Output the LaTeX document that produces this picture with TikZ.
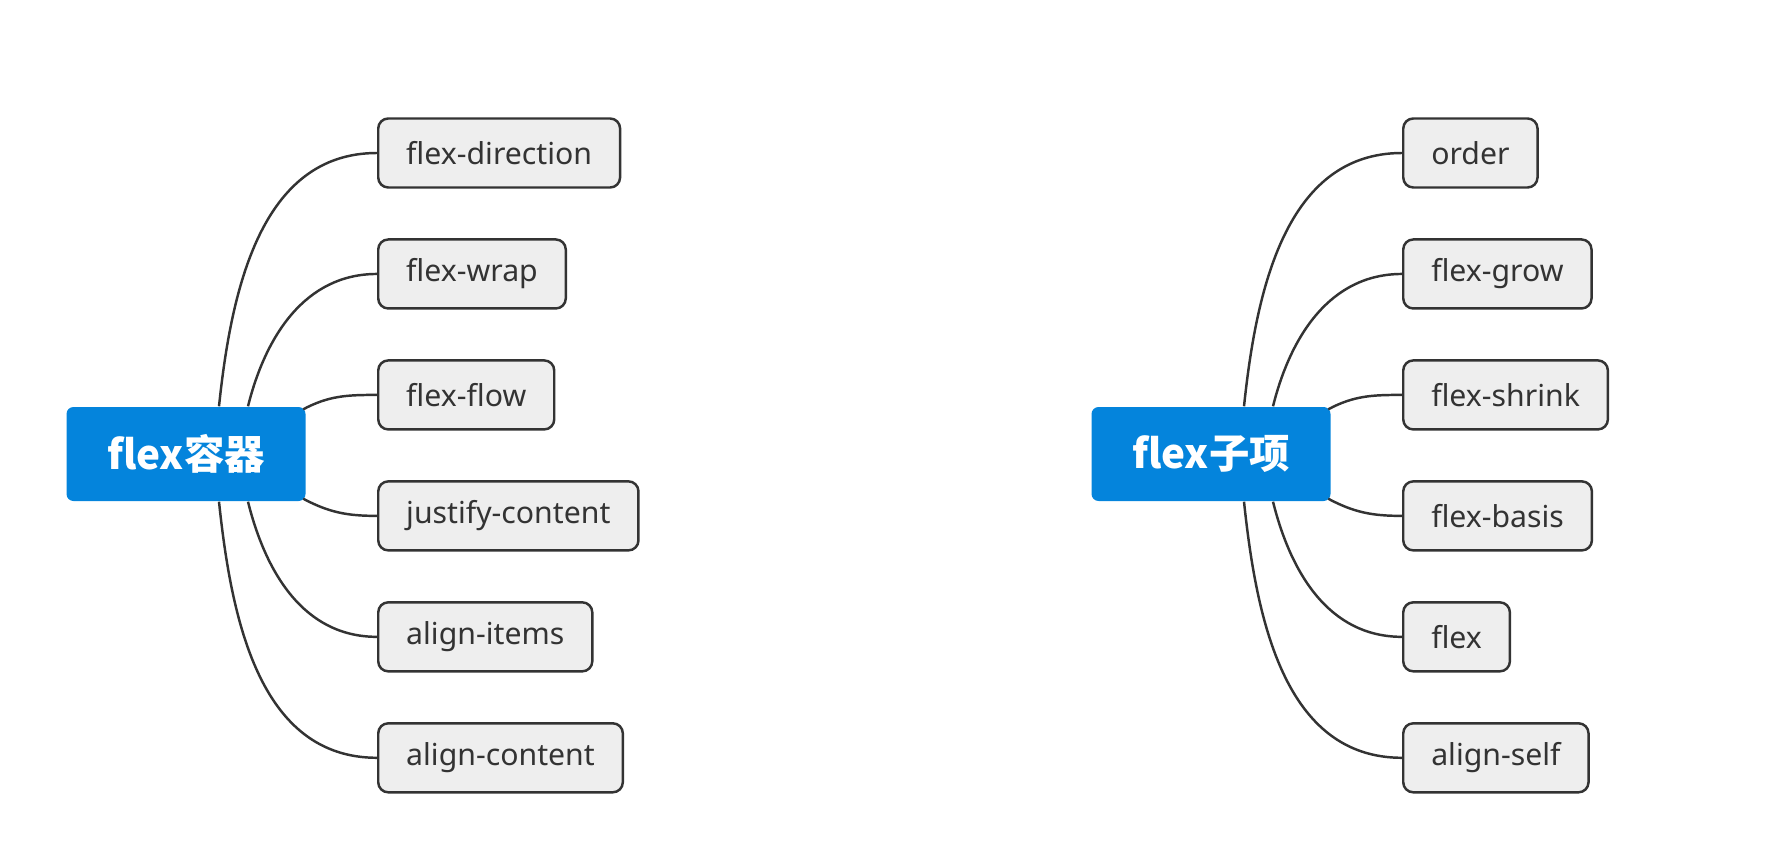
\documentclass[tikz,border=0pt]{standalone}
\usepackage{fontspec}
\setmainfont{Noto Sans}
\newfontfamily\cjk{Noto Sans CJK SC}
\usepackage{tikz}
\usetikzlibrary{positioning}
\definecolor{rootblue}{RGB}{4,132,220}
\definecolor{itemfill}{RGB}{238,238,238}
\definecolor{linegray}{RGB}{51,51,51}
\tikzset{
  root/.style={rectangle, rounded corners=0.07cm, fill=rootblue, text=white, minimum width=2.39cm, minimum height=0.94cm, align=center, font=\cjk\bfseries\fontsize{11.5}{13}\selectfont},
  item/.style={rectangle, rounded corners=0.1cm, draw=linegray, line width=0.7pt, fill=itemfill, text=linegray, minimum height=0.69cm, inner xsep=0.28cm, font=\fontsize{8.6}{10}\selectfont},
  link/.style={draw=linegray, line width=0.7pt},
}

\begin{document}
\begin{tikzpicture}[node distance=0.495cm]
  \useasboundingbox (0,0) rectangle (17.85,8.57);

  % flex container
  \node[root] (lroot) at (1.86,4.03) {flex容器};
  \node[item, anchor=west] (l1) at (3.77,7.04) {flex-direction};
  \node[item, below=of l1.south west, anchor=north west] (l2) {flex-wrap};
  \node[item, below=of l2.south west, anchor=north west] (l3) {flex-flow};
  \node[item, below=of l3.south west, anchor=north west] (l4) {justify-content};
  \node[item, below=of l4.south west, anchor=north west] (l5) {align-items};
  \node[item, below=of l5.south west, anchor=north west] (l6) {align-content};

  \draw[link] ([xshift=0.33cm]lroot.north) to[out=84, in=180] (l1.west);
  \draw[link] ([xshift=0.62cm]lroot.north) to[out=76, in=180] (l2.west);
  \draw[link] ([xshift=-0.03cm, yshift=-0.03cm]lroot.north east) to[out=28, in=180] (l3.west);
  \draw[link] ([xshift=-0.03cm, yshift=0.03cm]lroot.south east) to[out=-28, in=180] (l4.west);
  \draw[link] ([xshift=0.62cm]lroot.south) to[out=-76, in=180] (l5.west);
  \draw[link] ([xshift=0.33cm]lroot.south) to[out=-84, in=180] (l6.west);

  % flex items
  \node[root] (rroot) at (12.11,4.03) {flex子项};
  \node[item, anchor=west] (r1) at (14.02,7.04) {order};
  \node[item, below=of r1.south west, anchor=north west] (r2) {flex-grow};
  \node[item, below=of r2.south west, anchor=north west] (r3) {flex-shrink};
  \node[item, below=of r3.south west, anchor=north west] (r4) {flex-basis};
  \node[item, below=of r4.south west, anchor=north west] (r5) {flex};
  \node[item, below=of r5.south west, anchor=north west] (r6) {align-self};

  \draw[link] ([xshift=0.33cm]rroot.north) to[out=84, in=180] (r1.west);
  \draw[link] ([xshift=0.62cm]rroot.north) to[out=76, in=180] (r2.west);
  \draw[link] ([xshift=-0.03cm, yshift=-0.03cm]rroot.north east) to[out=28, in=180] (r3.west);
  \draw[link] ([xshift=-0.03cm, yshift=0.03cm]rroot.south east) to[out=-28, in=180] (r4.west);
  \draw[link] ([xshift=0.62cm]rroot.south) to[out=-76, in=180] (r5.west);
  \draw[link] ([xshift=0.33cm]rroot.south) to[out=-84, in=180] (r6.west);
\end{tikzpicture}
\end{document}
